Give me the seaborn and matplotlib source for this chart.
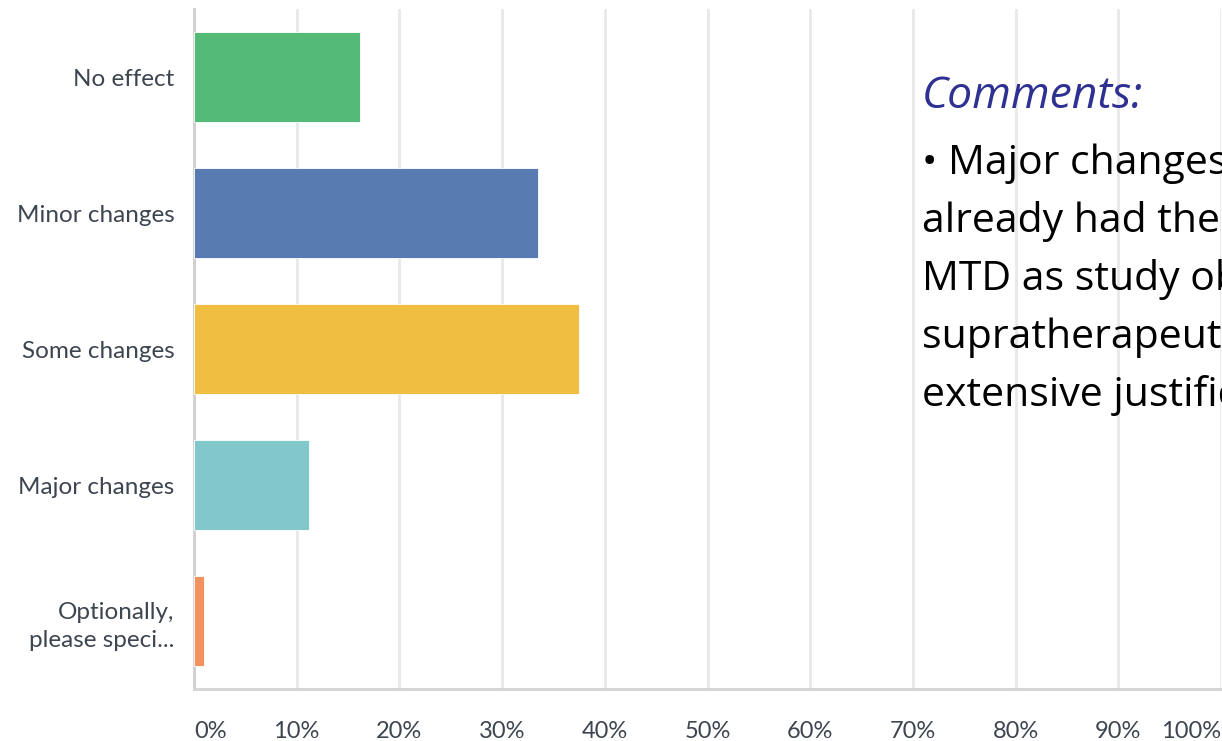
import matplotlib
matplotlib.use("Agg")
import matplotlib.pyplot as plt
import seaborn as sns
import pandas as pd

# Survey answers and share of respondents (%)
categories = ["No effect", "Minor changes", "Some changes", "Major changes",
              "Optionally,\nplease speci..."]
shares = [16.2, 33.5, 37.5, 11.2, 1.0]
bar_colors = ["#53bb77", "#587bb2", "#f0be41", "#82c7ca", "#f3925e"]
tick_values = [0, 10, 20, 30, 40, 50, 60, 70, 80, 90, 100]
tick_labels = [f"{v}%" for v in tick_values]

comment_title = "Comments:"
comment_lines = [
    "\u2022 Major changes: some",
    "already had the planned",
    "MTD as study objective,",
    "supratherapeutic doses",
    "extensive justification",
]

sns.set_theme(style="white")
plt.rcParams["font.family"] = ["Lato", "DejaVu Sans"]

df = pd.DataFrame({"answer": categories, "share": shares})

W, H = 1222, 741
fig = plt.figure(figsize=(W / 100, H / 100), dpi=100)
ax = fig.add_axes([194 / W, 1 - 689 / H, (1221 - 194) / W, (689 - 9) / H])

sns.barplot(data=df, x="share", y="answer", hue="answer", palette=bar_colors,
            order=categories, hue_order=categories, width=0.66, saturation=1,
            edgecolor="#ffffff", linewidth=0.6, legend=False, ax=ax, zorder=3)

ax.set_xlim(0, 100)
ax.set_ylim(4.5, -0.5)
ax.set_xticks(tick_values)
ax.set_xticklabels(tick_labels)
ax.set_xlabel("")
ax.set_ylabel("")

ax.grid(axis="x", color="#e8e8e8", linewidth=2, zorder=0)
ax.grid(axis="y", visible=False)
for side in ["top", "right"]:
    ax.spines[side].set_visible(False)
ax.spines["left"].set_color("#cfcfcf")
ax.spines["left"].set_linewidth(2)
ax.spines["bottom"].set_color("#d4d4d4")
ax.spines["bottom"].set_linewidth(2)

ax.tick_params(axis="x", length=0, pad=23, labelsize=17, labelcolor="#3d4550")
ax.tick_params(axis="y", length=0, pad=14, labelsize=17.5, labelcolor="#3d4550")
for lbl in ax.get_yticklabels():
    lbl.set_linespacing(1.4)
xl = ax.get_xticklabels()
xl[0].set_horizontalalignment("left")
xl[-1].set_horizontalalignment("right")
xl[-1].set_x(99.4)

# Comment block on the right
fig.text(922 / W, 1 - 108 / H, comment_title, fontsize=32, style="italic",
         color="#2e3192", family=["Open Sans", "DejaVu Sans"], va="baseline")
for i, line in enumerate(comment_lines):
    fig.text(922 / W, 1 - (174 + 58 * i) / H, line, fontsize=29.5, color="black",
             family=["Open Sans", "DejaVu Sans"], va="baseline")

fig.savefig("out.png", dpi=100)
